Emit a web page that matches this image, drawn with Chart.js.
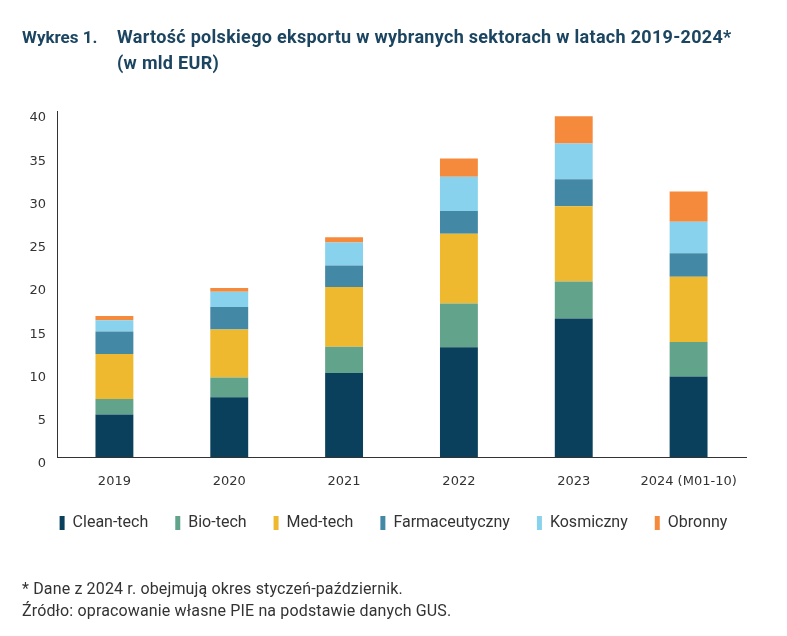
<!DOCTYPE html>
<html lang="pl">
<head>
<meta charset="utf-8">
<script src="https://cdn.jsdelivr.net/npm/chart.js@4.4.1/dist/chart.umd.min.js"></script>
<style>
  html, body { margin: 0; padding: 0; background: #fff; }
  #wrap { position: relative; width: 787px; height: 636px; overflow: hidden; }
  #chart { position: absolute; left: 0; top: 0; }
  .title { position: absolute; font-family: Roboto, sans-serif; font-weight: 700; font-size: 18px; letter-spacing: 0.3px; color: #1b4560; white-space: nowrap; }
  .note { position: absolute; left: 22px; font-family: Roboto, sans-serif; font-size: 16px; letter-spacing: 0.15px; color: #333; white-space: nowrap; }
</style>
</head>
<body>
<div id="wrap">
  <canvas id="chart" width="787" height="636"></canvas>
  <div class="title" style="left:22px; top:27px; font-size:17px; letter-spacing:0;">Wykres 1.</div>
  <div class="title" style="left:117px; top:26px;">Wartość polskiego eksportu w wybranych sektorach w latach 2019-2024*</div>
  <div class="title" style="left:117px; top:52px;">(w mld EUR)</div>
  <div class="note" style="top:579px;">* Dane z 2024 r. obejmują okres styczeń-październik.</div>
  <div class="note" style="top:601px;">Źródło: opracowanie własne PIE na podstawie danych GUS.</div>
</div>
<script>
const years = ["2019", "2020", "2021", "2022", "2023", "2024 (M01-10)"];

const cleanTech = [4.9, 6.9, 9.7, 12.7, 16.0, 9.3];
const bioTech = [1.8, 2.3, 3.05, 5.05, 4.3, 4.0];
const medTech = [5.2, 5.55, 6.9, 8.05, 8.7, 7.55];
const farmaceutyczny = [2.6, 2.6, 2.5, 2.65, 3.1, 2.7];
const kosmiczny = [1.3, 1.75, 2.65, 3.95, 4.15, 3.65];
const obronny = [0.5, 0.45, 0.6, 2.1, 3.15, 3.5];

const yTicks = [0, 5, 10, 15, 20, 25, 30, 35, 40];

const series = [
  { label: "Clean-tech", data: cleanTech, color: "#0a405b" },
  { label: "Bio-tech", data: bioTech, color: "#62a38b" },
  { label: "Med-tech", data: medTech, color: "#efb92f" },
  { label: "Farmaceutyczny", data: farmaceutyczny, color: "#4388a5" },
  { label: "Kosmiczny", data: kosmiczny, color: "#88d2ee" },
  { label: "Obronny", data: obronny, color: "#f68a3c" },
];

const ctx = document.getElementById("chart").getContext("2d");

new Chart(ctx, {
  type: "bar",
  data: {
    labels: years,
    datasets: series.map((s) => ({
      label: s.label,
      data: s.data,
      backgroundColor: s.color,
      borderWidth: 0,
      categoryPercentage: 1,
      barPercentage: 0.33,
    })),
  },
  options: {
    responsive: false,
    animation: false,
    layout: {
      padding: { left: 0, right: 0, top: 111, bottom: 95 },
    },
    plugins: {
      tooltip: { enabled: false },
      legend: {
        position: "bottom",
        labels: {
          boxWidth: 5,
          boxHeight: 14,
          padding: 27,
          color: "#333",
          font: { family: "Roboto", size: 16 },
        },
      },
    },
    scales: {
      x: {
        stacked: true,
        grid: { display: false, drawTicks: false },
        border: { display: true, color: "#333", width: 1 },
        ticks: {
          color: "#333",
          padding: 17,
          font: { family: "DejaVu Sans", size: 13 },
        },
        afterFit: (scale) => { scale.height = 31; },
      },
      y: {
        stacked: true,
        min: 0,
        max: 40,
        grid: { display: false, drawTicks: false },
        border: { display: true, color: "#333", width: 1 },
        afterBuildTicks: (scale) => { scale.ticks = yTicks.map((v) => ({ value: v })); },
        ticks: {
          color: "#333",
          padding: 11,
          labelOffset: 7,
          font: { family: "DejaVu Sans", size: 13 },
        },
        afterFit: (scale) => { scale.width = 57; },
      },
      // empty right-hand spacer so the plot ends at 746px and the legend stays centred
      spacer: {
        position: "right",
        min: 0,
        max: 40,
        grid: { display: false, drawTicks: false },
        border: { display: false },
        ticks: { display: false },
        afterFit: (scale) => { scale.width = 41; },
      },
    },
  },
});
</script>
</body>
</html>
